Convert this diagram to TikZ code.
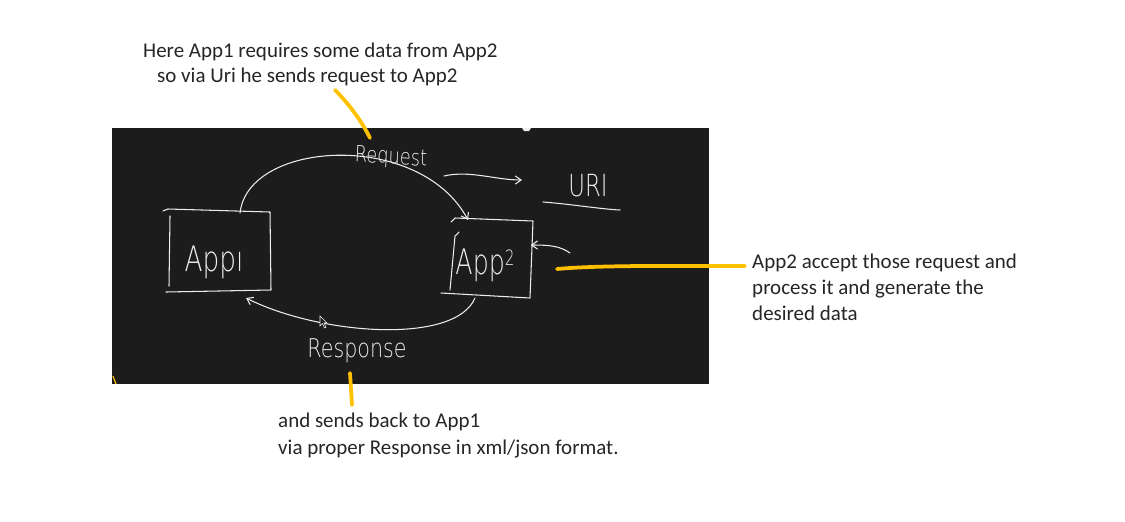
\documentclass[tikz,border=0pt]{standalone}
\usepackage{fontspec}
\setmainfont{Carlito}
\newfontfamily\handfont{DejaVu Sans ExtraLight}
\usetikzlibrary{arrows.meta}
\definecolor{board}{HTML}{1C1C1C}
\definecolor{chalk}{HTML}{EDEDED}
\definecolor{marker}{HTML}{FFC000}
\definecolor{note}{HTML}{262626}
\tikzset{
  chalkline/.style={draw=chalk, line width=0.9pt, line cap=round, line join=round},
  chalkarrow/.style={chalkline, -{Straight Barb[length=5pt,width=7pt]}},
  chalktext/.style={text=chalk, font=\handfont, inner sep=0pt},
  markline/.style={draw=marker, line width=3.2pt, line cap=round},
  notetext/.style={text=note, font=\fontsize{17.9}{21.5}\selectfont, inner sep=0pt, anchor=base west},
  appbox/.style={inner sep=0pt}
}
\begin{document}
\begin{tikzpicture}[x=0.03cm,y=-0.03cm]
\useasboundingbox (0,0) rectangle (1125,521);
\fill[white] (0,0) rectangle (1125,521);
% board
\fill[board] (112,128) rectangle (709,384);
% App1 box
\node[appbox, minimum width=105*0.03cm, minimum height=80*0.03cm] (app1) at (217.5,250) {};
\draw[chalkline] (163,211) -- (168,209) -- (270,212) -- (271,290) -- (166,292);
\draw[chalkline] (170,216) -- (169,286);
\node[chalktext, font=\handfont\fontsize{30}{30}\selectfont, xscale=0.75] (t1) at (214,262) {Appı};
% App2 box
\node[appbox, minimum width=87*0.03cm, minimum height=82*0.03cm] (app2) at (487,258) {};
\draw[chalkline] (451,222) -- (455,218) -- (533,221) -- (530,298) -- (441,293);
\draw[chalkline] (459,232) -- (455,236) -- (450,290);
\node[chalktext, font=\handfont\fontsize{30}{30}\selectfont, xscale=0.72] (t2) at (485,265) {App\raisebox{0.45ex}{\fontsize{18}{18}\selectfont 2}};
% Request arc
\coordinate (reqstart) at (240,213);
\coordinate (reqend) at (468,220);
\draw[chalkarrow] (reqstart) .. controls (248,140) and (420,130) .. (reqend);
\node[chalktext, font=\handfont\fontsize{19}{19}\selectfont, xscale=0.8, rotate=-3] (req) at (391,158) {Request};
% URI arrow
\coordinate (uristart) at (444,176);
\coordinate (uriend) at (522,180);
\draw[chalkarrow] (uristart) .. controls (470,170) and (495,180) .. (uriend);
\node[chalktext, font=\handfont\fontsize{26}{26}\selectfont, xscale=0.75] (uri) at (588,186) {URI};
\coordinate (ula) at (543,202);
\coordinate (ulb) at (620,210);
\draw[chalkline] (ula) .. controls (570,204) and (600,209) .. (ulb);
% arrow into App2
\coordinate (inarr) at (570,253);
\draw[chalkarrow] (inarr) .. controls (560,246) and (550,245) .. (app2.east |- 0,245);
% Response arc
\coordinate (resstart) at (475,298);
\coordinate (resend) at (246,298);
\draw[chalkarrow] (resstart) .. controls (455,345) and (320,335) .. (resend);
\node[chalktext, font=\handfont\fontsize{22}{22}\selectfont, xscale=0.8] (res) at (357,351) {Response};
% cursor
\draw[chalk, line width=0.5pt, fill=board] (320,316) -- (320,326) -- (322.5,323.5) -- (324.5,328) -- (326,327.3) -- (324,323) -- (327,323) -- cycle;
% small fragment on top edge
\fill[chalk] (522,128) -- (531,128) -- (529,131) -- (524,131) -- cycle;
% notes
\node[notetext] (n1) at (143,57) {Here App1 requires some data from App2};
\node[notetext] (n2) at (157,82) {so via Uri he sends request to App2};
\node[notetext] (n3a) at (752,268) {App2 accept those request and};
\node[notetext] (n3b) at (752,294) {process it and generate the};
\node[notetext] (n3c) at (752,320) {desired data};
\node[notetext] (n4a) at (278,427) {and sends back to App1};
\node[notetext] (n4b) at (278,454) {via proper Response in xml/json format.};
% marker lines
\coordinate (m1a) at (335,90);
\coordinate (m1b) at (370,138);
\draw[markline] (m1a) .. controls (350,105) and (362,122) .. (m1b);
\coordinate (m2a) at (557,269);
\coordinate (m2b) at (745,266);
\draw[markline] (m2a) .. controls (600,265) and (680,266) .. (m2b);
\coordinate (m3a) at (350,373);
\coordinate (m3b) at (352,405);
\draw[markline] (m3a) -- (m3b);
\draw[draw=marker, line width=1pt] (113,376) -- (116,384);
\end{tikzpicture}
\end{document}
